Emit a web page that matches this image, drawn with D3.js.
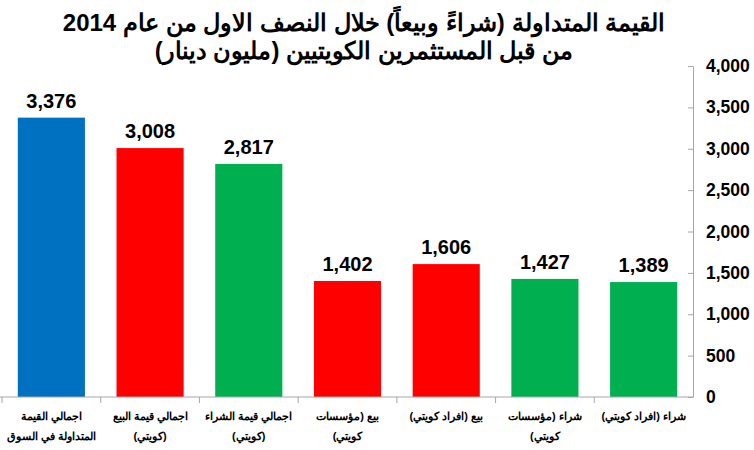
<!DOCTYPE html>
<html><head><meta charset="utf-8">
<script src="https://cdn.jsdelivr.net/npm/d3@7"></script>
<style>
body{margin:0;background:#fff;}
svg{font-family:"Liberation Sans",Arial,sans-serif;}
</style></head>
<body><svg id="c" width="754" height="450"></svg>
<script>
const categories = [
  ["اجمالي القيمة","المتداولة في السوق"],
  ["اجمالي قيمة البيع","(كويتي)"],
  ["اجمالي قيمة الشراء","(كويتي)"],
  ["بيع (مؤسسات","كويتي)"],
  ["بيع (افراد كويتي)"],
  ["شراء (مؤسسات","كويتي)"],
  ["شراء (افراد كويتي)"]
];
const values = [3376, 3008, 2817, 1402, 1606, 1427, 1389];
const barColors = ["#0070C0","#FF0000","#00B050","#FF0000","#FF0000","#00B050","#00B050"];
const yTicks = [0,500,1000,1500,2000,2500,3000,3500,4000];
const titleLines = ["القيمة المتداولة (شراءً وبيعاً) خلال النصف الاول من عام 2014","من قبل المستثمرين الكويتيين (مليون دينار)"];

const svg = d3.select("#c");
const idx = d3.range(values.length);
const axisX = 693;
const x = d3.scaleBand().domain(idx).range([2, axisX]).paddingInner(0.32).paddingOuter(0.16);
const y = d3.scaleLinear().domain([0, 4000]).range([397, 66]);

// title
svg.append("g").selectAll("text").data(titleLines).join("text")
  .attr("x", 364).attr("y", (d,i)=>31 + i*28)
  .attr("text-anchor","middle").attr("direction","rtl")
  .style("font-size","24px").style("font-weight","bold").attr("fill","#000")
  .text(d=>d);

// bars
svg.append("g").selectAll("rect").data(idx).join("rect")
  .attr("x", i=>x(i)).attr("width", x.bandwidth())
  .attr("y", i=>y(values[i])).attr("height", i=>y(0)-y(values[i]))
  .attr("fill", i=>barColors[i]);

// value labels
svg.append("g").selectAll("text").data(idx).join("text")
  .attr("x", i=>x(i)+x.bandwidth()/2).attr("y", i=>y(values[i])-10)
  .attr("text-anchor","middle").style("font-size","20px").style("font-weight","bold")
  .text(i=>d3.format(",")(values[i]));

// right axis
const ya = svg.append("g").attr("transform",`translate(${axisX},0)`)
  .call(d3.axisRight(y).tickValues(yTicks).tickFormat(d3.format(",")).tickSize(0));
ya.attr("font-size",null).attr("font-family",null);
ya.select(".domain").attr("stroke","#a6a6a6");
ya.selectAll("text").style("font-size","17.5px").style("font-weight","bold").attr("fill","#000")
  .attr("x",13).style("font-family","'Liberation Sans', Arial, sans-serif");
ya.selectAll(".tick").append("line").attr("x1",-5).attr("x2",0).attr("stroke","#a6a6a6");

// bottom axis line and separators
const base = svg.append("g");
base.append("line").attr("x1",0).attr("x2",axisX).attr("y1",y(0)).attr("y2",y(0)).attr("stroke","#a6a6a6");
base.selectAll("line.sep").data(d3.range(values.length)).join("line").attr("class","sep")
  .attr("x1", i=>2 + i*x.step()).attr("x2", i=>2 + i*x.step())
  .attr("y1", y(0)).attr("y2", y(0)+6).attr("stroke","#a6a6a6");

// category labels
const cl = svg.append("g").selectAll("g").data(idx).join("g");
cl.each(function(i){
  d3.select(this).selectAll("text").data(categories[i]).join("text")
    .attr("x", x(i)+x.bandwidth()/2).attr("y",(d,j)=>420 + j*20)
    .attr("text-anchor","middle").attr("direction","rtl")
    .style("font-size","11px").style("font-weight","bold").attr("fill","#000")
    .text(d=>d);
});
</script></body></html>
